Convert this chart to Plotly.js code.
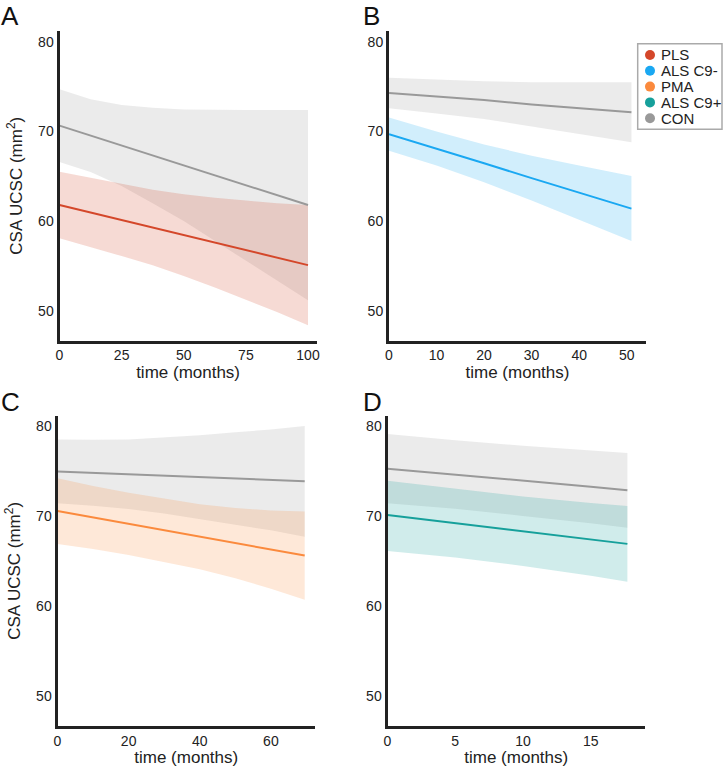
<!DOCTYPE html>
<html>
<head>
<meta charset="utf-8">
<script src="https://cdn.plot.ly/plotly-3.0.1.min.js"></script>
<style>
  html, body { margin: 0; padding: 0; background: #fff; }
  #csafig { width: 725px; height: 767px; }
</style>
</head>
<body>
<div id="csafig"></div>
<script>
// legend order + colours
var groups = ['PLS', 'ALS C9-', 'PMA', 'ALS C9+', 'CON'];
var groupColors = ['#d4472a', '#1aa8f2', '#fb8a3d', '#16a09b', '#999999'];

// A: PLS vs CON
var xA = [0, 12.5, 25, 37.5, 50, 62.5, 75, 87.5, 100];
var conA = [70.65, 69.54, 68.44, 67.33, 66.23, 65.12, 64.01, 62.91, 61.8];
var conA_hi = [74.7, 73.6, 72.95, 72.65, 72.45, 72.4, 72.4, 72.4, 72.4];
var conA_lo = [66.6, 65.48, 63.93, 62.01, 60.01, 57.84, 55.62, 53.42, 51.2];
var plsA = [61.8, 60.96, 60.13, 59.29, 58.45, 57.61, 56.78, 55.94, 55.1];
var plsA_hi = [65.5, 64.85, 64.15, 63.5, 63.0, 62.6, 62.3, 62.0, 61.8];
var plsA_lo = [58.1, 57.07, 56.11, 55.08, 53.9, 52.62, 51.26, 49.88, 48.4];

// B: ALS C9- vs CON
var xB = [0, 10, 20, 30, 40, 51];
var conB = [74.3, 73.9, 73.5, 73.0, 72.6, 72.15];
var conB_hi = [76.0, 75.8, 75.6, 75.5, 75.5, 75.5];
var conB_lo = [72.6, 72.0, 71.4, 70.5, 69.7, 68.8];
var c9mB = [69.7, 68.1, 66.45, 64.8, 63.2, 61.4];
var c9mB_hi = [71.55, 70.0, 68.55, 67.3, 66.2, 65.05];
var c9mB_lo = [67.85, 66.2, 64.35, 62.3, 60.2, 57.8];

// C: PMA vs CON
var xC = [0, 10, 20, 30, 40, 50, 60, 69.5];
var conC = [74.95, 74.79, 74.63, 74.48, 74.32, 74.16, 74.0, 73.85];
var conC_hi = [78.5, 78.45, 78.5, 78.7, 78.95, 79.3, 79.6, 80.0];
var conC_lo = [71.4, 71.13, 70.76, 70.26, 69.69, 69.02, 68.4, 67.7];
var pmaC = [70.55, 69.84, 69.12, 68.41, 67.69, 66.98, 66.27, 65.6];
var pmaC_hi = [74.2, 73.34, 72.57, 71.91, 71.29, 70.88, 70.62, 70.5];
var pmaC_lo = [66.9, 66.34, 65.67, 64.91, 64.09, 63.08, 61.92, 60.7];

// D: ALS C9+ vs CON
var xD = [0, 5, 10, 15, 17.7];
var conD = [75.25, 74.6, 73.9, 73.25, 72.85];
var conD_hi = [79.1, 78.4, 77.8, 77.3, 77.0];
var conD_lo = [71.4, 70.8, 70.0, 69.2, 68.7];
var c9pD = [70.1, 69.2, 68.3, 67.4, 66.9];
var c9pD_hi = [73.9, 73.0, 72.15, 71.45, 71.1];
var c9pD_lo = [66.1, 65.4, 64.45, 63.35, 62.7];

function fade(hex, a) {
  var r = parseInt(hex.substr(1, 2), 16), g = parseInt(hex.substr(3, 2), 16), b = parseInt(hex.substr(5, 2), 16);
  return 'rgba(' + r + ',' + g + ',' + b + ',' + a + ')';
}

function band(x, lo, hi, color, n) {
  return {
    x: x.concat(x.slice().reverse()),
    y: hi.concat(lo.slice().reverse()),
    xaxis: 'x' + n, yaxis: 'y' + n,
    type: 'scatter', mode: 'lines', fill: 'toself',
    fillcolor: fade(color, 0.2), line: {width: 0},
    hoverinfo: 'skip', showlegend: false
  };
}

function meanline(x, y, color, n, name) {
  return {
    x: x, y: y, xaxis: 'x' + n, yaxis: 'y' + n,
    type: 'scatter', mode: 'lines', name: name,
    line: {color: color, width: 2}, showlegend: false
  };
}

var CON = groupColors[4];
var data = [
  band(xA, conA_lo, conA_hi, CON, ''), band(xA, plsA_lo, plsA_hi, groupColors[0], ''),
  meanline(xA, conA, CON, '', 'CON'), meanline(xA, plsA, groupColors[0], '', 'PLS'),
  band(xB, conB_lo, conB_hi, CON, 2), band(xB, c9mB_lo, c9mB_hi, groupColors[1], 2),
  meanline(xB, conB, CON, 2, 'CON'), meanline(xB, c9mB, groupColors[1], 2, 'ALS C9-'),
  band(xC, conC_lo, conC_hi, CON, 3), band(xC, pmaC_lo, pmaC_hi, groupColors[2], 3),
  meanline(xC, conC, CON, 3, 'CON'), meanline(xC, pmaC, groupColors[2], 3, 'PMA'),
  band(xD, conD_lo, conD_hi, CON, 4), band(xD, c9pD_lo, c9pD_hi, groupColors[3], 4),
  meanline(xD, conD, CON, 4, 'CON'), meanline(xD, c9pD, groupColors[3], 4, 'ALS C9+')
];

var FONT = 'Liberation Sans, Arial, sans-serif';
function xax(dom, rng, dt, anchor) {
  return {
    domain: dom, range: rng, dtick: dt, anchor: anchor,
    showline: true, linewidth: 3, linecolor: '#222',
    showgrid: false, zeroline: false, ticks: '',
    tickfont: {family: FONT, size: 14, color: '#222'},
    title: {text: 'time (months)', font: {family: FONT, size: 17, color: '#222'}, standoff: 1},
    automargin: false
  };
}
function yax(dom, rng, anchor, withTitle) {
  var ax = {
    domain: dom, range: rng, tickvals: [50, 60, 70, 80], anchor: anchor,
    showline: true, linewidth: 3, linecolor: '#222',
    showgrid: false, zeroline: false, ticks: '',
    tickfont: {family: FONT, size: 14, color: '#222'},
    automargin: false
  };
  if (withTitle) ax.title = {text: 'CSA UCSC (mm<sup>2</sup>)', font: {family: FONT, size: 17, color: '#222'}, standoff: 12};
  return ax;
}

var annots = [
  {text: 'A', x: 0, y: 1, xanchor: 'left', yanchor: 'top'},
  {text: 'B', x: 362 / 725, y: 1, xanchor: 'left', yanchor: 'top'},
  {text: 'C', x: 0, y: 1 - 386 / 767, xanchor: 'left', yanchor: 'top'},
  {text: 'D', x: 362 / 725, y: 1 - 386 / 767, xanchor: 'left', yanchor: 'top'}
].map(function (a) {
  a.xref = 'paper'; a.yref = 'paper'; a.showarrow = false; a.borderpad = 0;
  a.font = {family: FONT, size: 26, color: '#111'};
  return a;
});

// hand drawn legend box (tight spacing like the original)
var shapes = [{
  type: 'rect', xref: 'paper', yref: 'paper',
  x0: 637.7 / 725, x1: 722 / 725, y0: 1 - 129.3 / 767, y1: 1 - 43.7 / 767,
  line: {color: '#aaaaaa', width: 1.5}, fillcolor: '#ffffff'
}];
groups.forEach(function (g, i) {
  var cy = 55 + i * 15.8;
  shapes.push({
    type: 'circle', xref: 'paper', yref: 'paper',
    x0: 645 / 725, x1: 655 / 725, y0: 1 - (cy + 5) / 767, y1: 1 - (cy - 5) / 767,
    line: {width: 0}, fillcolor: groupColors[i]
  });
  annots.push({
    text: g, xref: 'paper', yref: 'paper', x: 659 / 725, y: 1 - cy / 767,
    xanchor: 'left', yanchor: 'middle', showarrow: false,
    font: {family: FONT, size: 15, color: '#222'}
  });
});

var layout = {
  width: 725, height: 767,
  margin: {l: 0, r: 0, t: 0, b: 0},
  paper_bgcolor: '#fff', plot_bgcolor: '#fff',
  showlegend: false,
  xaxis: xax([59.5 / 725, 316.7 / 725], [0, 103.5], 25, 'y'),
  yaxis: yax([1 - 340.5 / 767, 1 - 31 / 767], [46.7, 81.2], 'x', true),
  xaxis2: xax([389 / 725, 646 / 725], [0, 54.06], 10, 'y2'),
  yaxis2: yax([1 - 340.5 / 767, 1 - 31 / 767], [46.7, 81.2], 'x2', false),
  xaxis3: xax([57.5 / 725, 315 / 725], [0, 72.4], 20, 'y3'),
  yaxis3: yax([1 - 725.8 / 767, 1 - 416 / 767], [46.7, 81.1], 'x3', true),
  xaxis4: xax([387.5 / 725, 645 / 725], [0, 19.0], 5, 'y4'),
  yaxis4: yax([1 - 725.8 / 767, 1 - 416 / 767], [46.7, 81.1], 'x4', false),
  annotations: annots,
  shapes: shapes
};

Plotly.newPlot('csafig', data, layout, {displayModeBar: false, staticPlot: true});
</script>
</body>
</html>
